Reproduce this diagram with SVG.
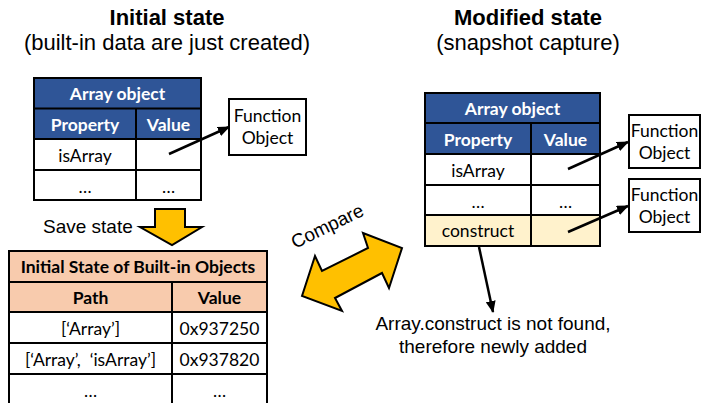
<svg xmlns="http://www.w3.org/2000/svg" width="702" height="403" viewBox="0 0 702 403">
  <style>
    .title { font-family: "Liberation Sans", Arial, sans-serif; font-size: 22px; font-weight: bold; fill: #000; text-anchor: middle; }
    .sub { font-family: "Liberation Sans", Arial, sans-serif; font-size: 22px; fill: #000; text-anchor: middle; }
    .note { font-family: "Liberation Sans", Arial, sans-serif; font-size: 19px; fill: #000; }
    .cell { font-family: Lato, "Noto Sans", sans-serif; font-size: 17.5px; fill: #000; text-anchor: middle; }
    .head { font-family: Lato, "Noto Sans", sans-serif; font-size: 17.5px; font-weight: bold; fill: #fff; text-anchor: middle; }
    .headdark { font-family: Lato, "Noto Sans", sans-serif; font-size: 17.5px; font-weight: bold; fill: #000; text-anchor: middle; }
    .grid { fill: none; stroke: #000; stroke-width: 2; }
    .blue { fill: #2F5597; }
    .peach { fill: #F8CBAD; }
    .cream { fill: #FFF2CC; }
    .white { fill: #fff; }
    .box { fill: #fff; stroke: #000; stroke-width: 2; }
    .conn { fill: none; stroke: #000; stroke-width: 2.5; marker-end: url(#head); }
    .big { fill: #FFC000; stroke: #000; stroke-width: 2; stroke-linejoin: miter; }
  </style>
  <defs>
    <marker id="head" viewBox="0 0 12 10" refX="11" refY="5" markerWidth="12" markerHeight="10" markerUnits="userSpaceOnUse" orient="auto">
      <path d="M0,0 L12,5 L0,10 Z" fill="#000"/>
    </marker>
  </defs>

  <!-- headings -->
  <g id="title-initial">
    <text class="title" x="167" y="25">Initial state</text>
    <text class="sub" x="167" y="50">(built-in data are just created)</text>
  </g>
  <g id="title-modified">
    <text class="title" x="528" y="25">Modified state</text>
    <text class="sub" x="528" y="50">(snapshot capture)</text>
  </g>

  <!-- Array object in its initial state -->
  <g id="array-initial">
    <rect class="blue" x="34" y="78" width="167" height="61"/>
    <rect class="white" x="34" y="139" width="167" height="61"/>
    <rect class="grid" x="34" y="78" width="167" height="122"/>
    <path class="grid" d="M34,108.5 H201 M34,139 H201 M34,170 H201 M136,108.5 V200"/>
    <text class="head" x="117.5" y="100">Array object</text>
    <text class="head" x="85" y="131">Property</text>
    <text class="head" x="168.5" y="131">Value</text>
    <text class="cell" x="85" y="162">isArray</text>
    <text class="cell" x="85" y="193">…</text>
    <text class="cell" x="168.5" y="193">…</text>
  </g>

  <g id="function-initial">
    <rect class="box" x="229" y="99" width="77" height="56"/>
    <text class="cell" x="267.5" y="122">Function</text>
    <text class="cell" x="267.5" y="144">Object</text>
  </g>

  <!-- Array object after modification -->
  <g id="array-modified">
    <rect class="blue" x="425" y="93" width="175" height="61"/>
    <rect class="white" x="425" y="154" width="175" height="61"/>
    <rect class="cream" x="425" y="215" width="175" height="31"/>
    <rect class="grid" x="425" y="93" width="175" height="153"/>
    <path class="grid" d="M425,123 H600 M425,154 H600 M425,185 H600 M425,215 H600 M531,123 V246"/>
    <text class="head" x="512.5" y="115">Array object</text>
    <text class="head" x="478" y="146">Property</text>
    <text class="head" x="565.5" y="146">Value</text>
    <text class="cell" x="478" y="177">isArray</text>
    <text class="cell" x="478" y="208">…</text>
    <text class="cell" x="565.5" y="208">…</text>
    <text class="cell" x="478" y="237">construct</text>
  </g>

  <g id="function-modified-1">
    <rect class="box" x="629" y="115" width="71" height="53"/>
    <text class="cell" x="664.5" y="137">Function</text>
    <text class="cell" x="664.5" y="159">Object</text>
  </g>
  <g id="function-modified-2">
    <rect class="box" x="629" y="179" width="71" height="53"/>
    <text class="cell" x="664.5" y="201">Function</text>
    <text class="cell" x="664.5" y="223">Object</text>
  </g>

  <!-- saved snapshot table -->
  <g id="saved-state">
    <rect class="peach" x="9" y="251" width="258" height="61"/>
    <rect class="white" x="9" y="312" width="258" height="95"/>
    <rect class="grid" x="9" y="251" width="258" height="156"/>
    <path class="grid" d="M9,282 H267 M9,312 H267 M9,343 H267 M9,374 H267 M172,282 V407"/>
    <text class="headdark" x="138" y="273">Initial State of Built-in Objects</text>
    <text class="headdark" x="90.5" y="304">Path</text>
    <text class="headdark" x="219.5" y="304">Value</text>
    <text class="cell" x="90.5" y="335">[‘Array’]</text>
    <text class="cell" x="219.5" y="335">0x937250</text>
    <text class="cell" x="90.5" y="366" xml:space="preserve">[‘Array’,  ‘isArray’]</text>
    <text class="cell" x="219.5" y="366">0x937820</text>
    <text class="cell" x="90.5" y="397">…</text>
    <text class="cell" x="219.5" y="397">…</text>
  </g>

  <!-- save step -->
  <g id="save-step">
    <path class="big" d="M155,209 H185 V227 H202 L172,245 L140,227 H155 Z"/>
    <text class="note" x="43" y="233">Save state</text>
  </g>

  <!-- compare step -->
  <g id="compare-step">
    <path class="big" d="M302,296 L315,256 L322,271 L368,248 L363,233 L402,248 L389,288 L382,273 L335,298 L342,311 Z"/>
    <text class="note" x="0" y="0" transform="translate(295,249) rotate(-26)">Compare</text>
  </g>

  <g id="note-added">
    <text class="note" x="493" y="330" text-anchor="middle">Array.construct is not found,</text>
    <text class="note" x="493" y="353" text-anchor="middle">therefore newly added</text>
  </g>

  <!-- connectors -->
  <g id="connectors">
    <line class="conn" x1="169" y1="154" x2="229" y2="127"/>
    <line class="conn" x1="568" y1="169" x2="628" y2="142"/>
    <line class="conn" x1="568" y1="232" x2="628" y2="206"/>
    <line class="conn" x1="479" y1="247" x2="493" y2="312"/>
  </g>
</svg>
